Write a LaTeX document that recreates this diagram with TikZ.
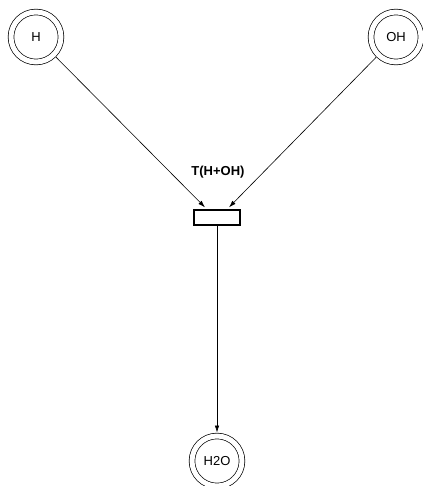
\documentclass[tikz,border=0pt]{standalone}
\usepackage{fontspec}
\setmainfont{Liberation Sans}
\usetikzlibrary{positioning,arrows.meta}
\begin{document}
\begin{tikzpicture}[x=1pt, y=-1pt, >={Latex[length=7pt,width=4.5pt]}]
\tikzset{
  place/.style={circle, draw, line width=0.7pt, double, double distance=5pt,
    minimum size=50pt, inner sep=0pt, outer sep=3.5pt, font=\fontsize{13}{15}\selectfont},
  trans/.style={rectangle, draw, line width=1.3pt, minimum width=46pt,
    minimum height=15pt, inner sep=0pt},
  arc/.style={->, line width=0.6pt}
}
\useasboundingbox (0,0) rectangle (422,486);
% Places
\node[place] (h) at (36,37) {H};
\node[place] (oh) at (396,37) {OH};
\node[place] (h2o) at (217,461) {H2O};
% Transition and its label
\node[trans] (tr) at (217,217.5) {};
\node[font=\bfseries\fontsize{13}{15}\selectfont] (trlabel) at (218,172) {T(H+OH)};
% Arcs
\draw[arc] (h) -- ([xshift=-12pt, yshift=2pt]tr.north);
\draw[arc] (oh) -- ([xshift=12pt, yshift=2pt]tr.north);
\draw[arc] (tr) -- (h2o);
\end{tikzpicture}
\end{document}
